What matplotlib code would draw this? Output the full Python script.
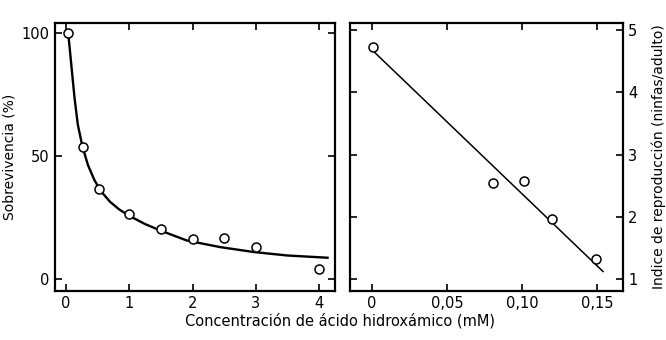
import matplotlib
matplotlib.use("Agg")
import matplotlib.pyplot as plt

# left panel: survival vs concentration
conc_a = [0.03, 0.28, 0.52, 1.0, 1.5, 2.0, 2.5, 3.0, 4.0]
surv = [100, 53.8, 36.8, 26.6, 20.4, 16.4, 16.7, 13.3, 4.1]
# fitted curve
curve_x = [0.04, 0.07, 0.10, 0.14, 0.19, 0.26, 0.35, 0.45, 0.55, 0.7, 0.85, 1.02,
           1.25, 1.49, 1.91, 2.44, 2.97, 3.5, 4.13]
curve_y = [99.8, 92, 84, 73.5, 63, 54.4, 46.5, 40.5, 36, 31.5, 28.3, 25.6,
           22.5, 19.9, 15.8, 13.1, 11.1, 9.7, 8.8]

# right panel: reproduction index vs concentration
conc_b = [0.001, 0.081, 0.101, 0.12, 0.149]
repro = [4.72, 2.54, 2.58, 1.97, 1.32]
fit_x = [0.0007, 0.1538]
fit_y = [4.67, 1.125]

plt.rcParams['font.family'] = 'DejaVu Sans'
plt.rcParams['font.size'] = 10.5

fig = plt.figure(figsize=(6.66, 3.4), dpi=100)
ax1 = fig.add_axes([0.0826, 0.145, 0.4197, 0.7888])
ax2 = fig.add_axes([0.5255, 0.145, 0.4095, 0.7888])

ax1.plot(curve_x, curve_y, color='black', lw=1.7, zorder=2)
ax1.plot(conc_a, surv, 'o', ms=6.5, mfc='white', mec='black', mew=1.1, zorder=3)
ax1.set_xlim(-0.169, 4.24)
ax1.set_ylim(-4.6, 104.4)
ax1.set_xticks([0, 1, 2, 3, 4])
ax1.set_yticks([0, 50, 100])
ax1.set_ylabel('Sobrevivencia (%)', fontsize=10)
ax1.yaxis.set_label_coords(-0.136, 0.5)

ax2.plot(fit_x, fit_y, color='black', lw=1.1, zorder=2)
ax2.plot(conc_b, repro, 'o', ms=6.5, mfc='white', mec='black', mew=1.1, zorder=3)
ax2.set_xlim(-0.0144, 0.1669)
ax2.set_ylim(0.817, 5.12)
ax2.set_xticks([0, 0.05, 0.10, 0.15])
ax2.set_xticklabels(['0', '0,05', '0,10', '0,15'])
ax2.set_yticks([1, 2, 3, 4, 5])
ax2.yaxis.tick_right()
ax2.yaxis.set_label_position('right')
ax2.set_ylabel('Indice de reproducción (ninfas/adulto)', fontsize=10)
ax2.yaxis.set_label_coords(1.107, 0.5)

for ax in (ax1, ax2):
    for s in ax.spines.values():
        s.set_linewidth(1.6)
    ax.tick_params(direction='in', length=5, width=1.2, top=True, bottom=True,
                   left=True, right=True, pad=4)
ax2.tick_params(labelleft=False, labelright=True)

fig.text(0.51, 0.035, 'Concentración de ácido hidroxámico (mM)', ha='center', va='bottom', fontsize=10.5)

fig.savefig('out.png', dpi=100)
